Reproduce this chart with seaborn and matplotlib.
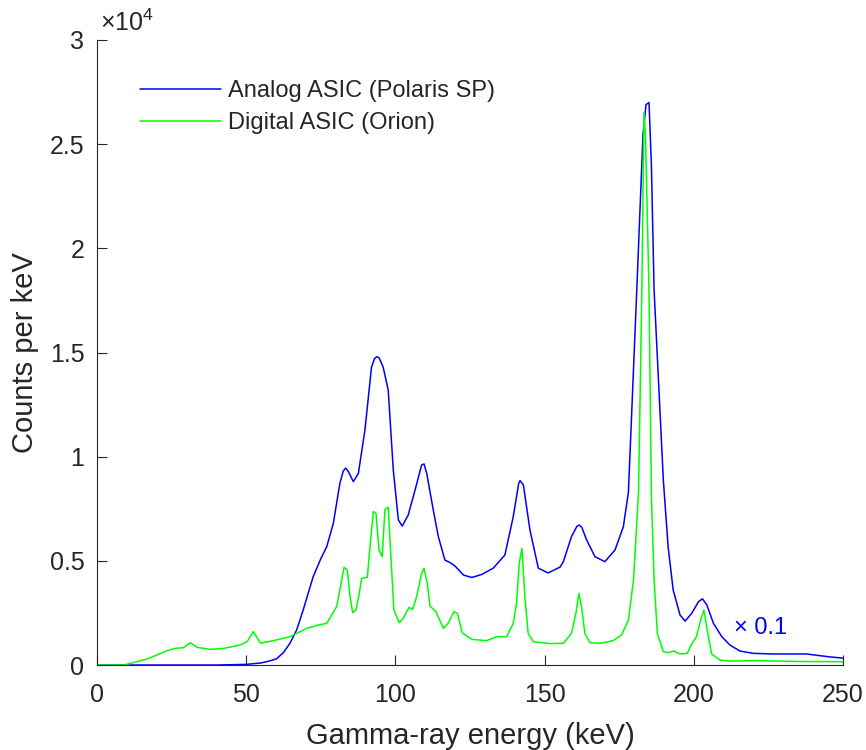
import numpy as np
import pandas as pd
import matplotlib
matplotlib.use("Agg")
import matplotlib.pyplot as plt
from matplotlib.ticker import FuncFormatter
import seaborn as sns

# Analog ASIC (Polaris SP) spectrum
analog_kev = [0, 20, 40, 50, 55, 58, 60.2, 62.5, 64.7, 66.9, 69.1, 72.4, 75, 77.0, 79.2,
              81.4, 82.5, 83.3, 84.2, 85.9, 87.6, 89.8, 92.0, 93.0, 93.7, 94.5, 95.3, 95.9,
              97.6, 99.3, 101.0, 102.3, 104.3, 106.6, 108.8, 109.6, 110.5, 112.7, 114.4,
              116.6, 118.5, 120, 122.8, 125.6, 129, 132.8, 136.7, 139.5, 141.3, 141.8, 142.9,
              145.1, 147.9, 151.2, 155.2, 156.3, 159.0, 160.8, 161.6, 162.5, 164.1, 166.9,
              170.2, 173.6, 176.4, 178.1, 180.9, 183.0, 184.0, 185.0, 185.8, 186.7, 189.8,
              191.4, 193.1, 195.4, 197.1, 199.3, 201.6, 202.9, 204.4, 206.6, 209.4, 212.1,
              215.5, 220, 226.6, 237.8, 245, 250]
analog_counts = [0, 0, 0, 30, 100, 200, 300, 600, 1050, 1680, 2640, 4220, 5100, 5680, 6800,
                 8720, 9300, 9450, 9300, 8800, 9200, 11280, 14300, 14700, 14800, 14750, 14500,
                 14300, 13200, 9360, 6960, 6670, 7200, 8400, 9600, 9650, 9200, 7440, 6160,
                 5040, 4900, 4750, 4320, 4200, 4350, 4650, 5280, 7120, 8700, 8850, 8640,
                 6480, 4650, 4420, 4700, 4960, 6160, 6650, 6720, 6600, 6000, 5200,
                 4960, 5520, 6640, 8300, 18000, 25500, 26900, 27000, 24000, 18000, 8880,
                 5680, 3600, 2400, 2110, 2480, 3040, 3180, 2880, 2000, 1360, 960,
                 670, 560, 530, 530, 400, 330]

# Digital ASIC (Orion) spectrum
digital_kev = [0, 9, 13.4, 16.8, 20.1, 23.5, 26.2, 29.0, 31.3, 33.5, 38, 42.5, 48.0, 50.3,
               52.4, 54.8, 59.1, 64.7, 70.3, 74.2, 77, 80.3, 81.6, 82.8, 83.9, 84.8, 85.7,
               86.8, 87.9, 88.7, 90.6, 91.5, 92.6, 93.5, 94.5, 95.6, 96.5, 97.6, 98.5, 99.5,
               101.3, 102.6, 104.6, 105.8, 107.1, 108.8, 109.6, 110.7, 111.6, 113.6, 116.1,
               117.7, 119.6, 120.8, 122.4, 125.6, 130.6, 134, 137.3, 139.5, 140.6, 141.5,
               142.4, 143.4, 144.5, 146.2, 151.8, 156.3, 159, 160.5, 161.5, 162.4, 163.5,
               165.2, 168.6, 173, 175.8, 178.1, 179.8, 181.1, 181.5, 182.6, 183.3, 183.8,
               185.0, 185.8, 186.7, 187.8, 189.8, 191.4, 193.3, 195.4, 197.8, 199.3, 200.9,
               202.3, 203.4, 204.5, 206.0, 208.8, 212.1, 221, 235, 249, 250]
digital_counts = [0, 0, 160, 290, 480, 690, 800, 830, 1070, 850, 750, 800, 960, 1120,
                  1600, 1050, 1170, 1360, 1760, 1920, 2000, 2800, 3760, 4690, 4560, 3280, 2510,
                  2640, 3440, 4160, 4210, 5680, 7360, 7280, 5520, 5200, 7470, 7570, 5200, 2640,
                  2030, 2240, 2770, 2670, 3280, 4400, 4640, 3920, 2830, 2560, 1760,
                  2000, 2560, 2480, 1550, 1230, 1170, 1360, 1360, 2000, 2960, 4880,
                  5600, 3280, 1520, 1120, 1030, 1040, 1520, 2480, 3440, 2800, 1520,
                  1070, 1040, 1170, 1440, 2160, 4080, 7280, 8400, 18000, 26500, 25500,
                  18000, 8100, 4080, 1520, 640, 590, 670, 530, 560, 1010, 1360,
                  2160, 2640, 1680, 530, 240, 190, 210, 170, 160, 150]

labels = ["Analog ASIC (Polaris SP)", "Digital ASIC (Orion)"]
x_ticks = [0, 50, 100, 150, 200, 250]
y_ticks = [0, 5000, 10000, 15000, 20000, 25000, 30000]

df = pd.concat([
    pd.DataFrame({"energy": analog_kev, "counts": analog_counts, "asic": labels[0]}),
    pd.DataFrame({"energy": digital_kev, "counts": digital_counts, "asic": labels[1]}),
])

sns.set_style("ticks")
plt.rcParams['font.family'] = ['Liberation Sans', 'DejaVu Sans']
plt.rcParams['mathtext.fontset'] = 'custom'
plt.rcParams['mathtext.rm'] = 'Liberation Sans'
plt.rcParams['mathtext.it'] = 'Liberation Sans'

txt = "#262626"

fig = plt.figure(figsize=(8.66, 7.5), dpi=100)
ax = fig.add_axes([0.112, 0.1133, 0.8614, 0.8334])

sns.lineplot(data=df, x="energy", y="counts", hue="asic", sort=False, estimator=None,
             palette=["#0000ff", "#00ff00"], linewidth=1.1, ax=ax)

ax.set_xlim(0, 250)
ax.set_ylim(0, 30000)
ax.set_xticks(x_ticks)
ax.set_yticks(y_ticks)
ax.yaxis.set_major_formatter(FuncFormatter(lambda v, p: f"{v / 1e4:g}"))

for s in ["top", "right"]:
    ax.spines[s].set_visible(False)
for s in ["left", "bottom"]:
    ax.spines[s].set_color(txt)
    ax.spines[s].set_linewidth(0.8)
ax.tick_params(direction="in", length=7, width=0.8, color=txt, labelsize=18,
               labelcolor=txt)
ax.tick_params(axis="x", pad=13)
ax.tick_params(axis="y", pad=9)

ax.set_xlabel("Gamma-ray energy (keV)", fontsize=21, color=txt, labelpad=11)
ax.set_ylabel("Counts per keV", fontsize=21, color=txt, labelpad=8)

# scale factor shown above the y axis, as MATLAB does
ax.text(0.004, 1.006, r"$\times10^{4}$", transform=ax.transAxes, fontsize=18,
        color=txt, ha="left", va="bottom")

ax.legend(frameon=False, loc="upper left", bbox_to_anchor=(0.058, 0.936), fontsize=17,
          handlelength=3.4, handletextpad=0.3, labelspacing=0.42, borderpad=0,
          borderaxespad=0)

ax.text(213.6, 1780, "× 0.1", color="#0000ff", fontsize=17, va="center", ha="left")

fig.savefig("out.png", dpi=100)
